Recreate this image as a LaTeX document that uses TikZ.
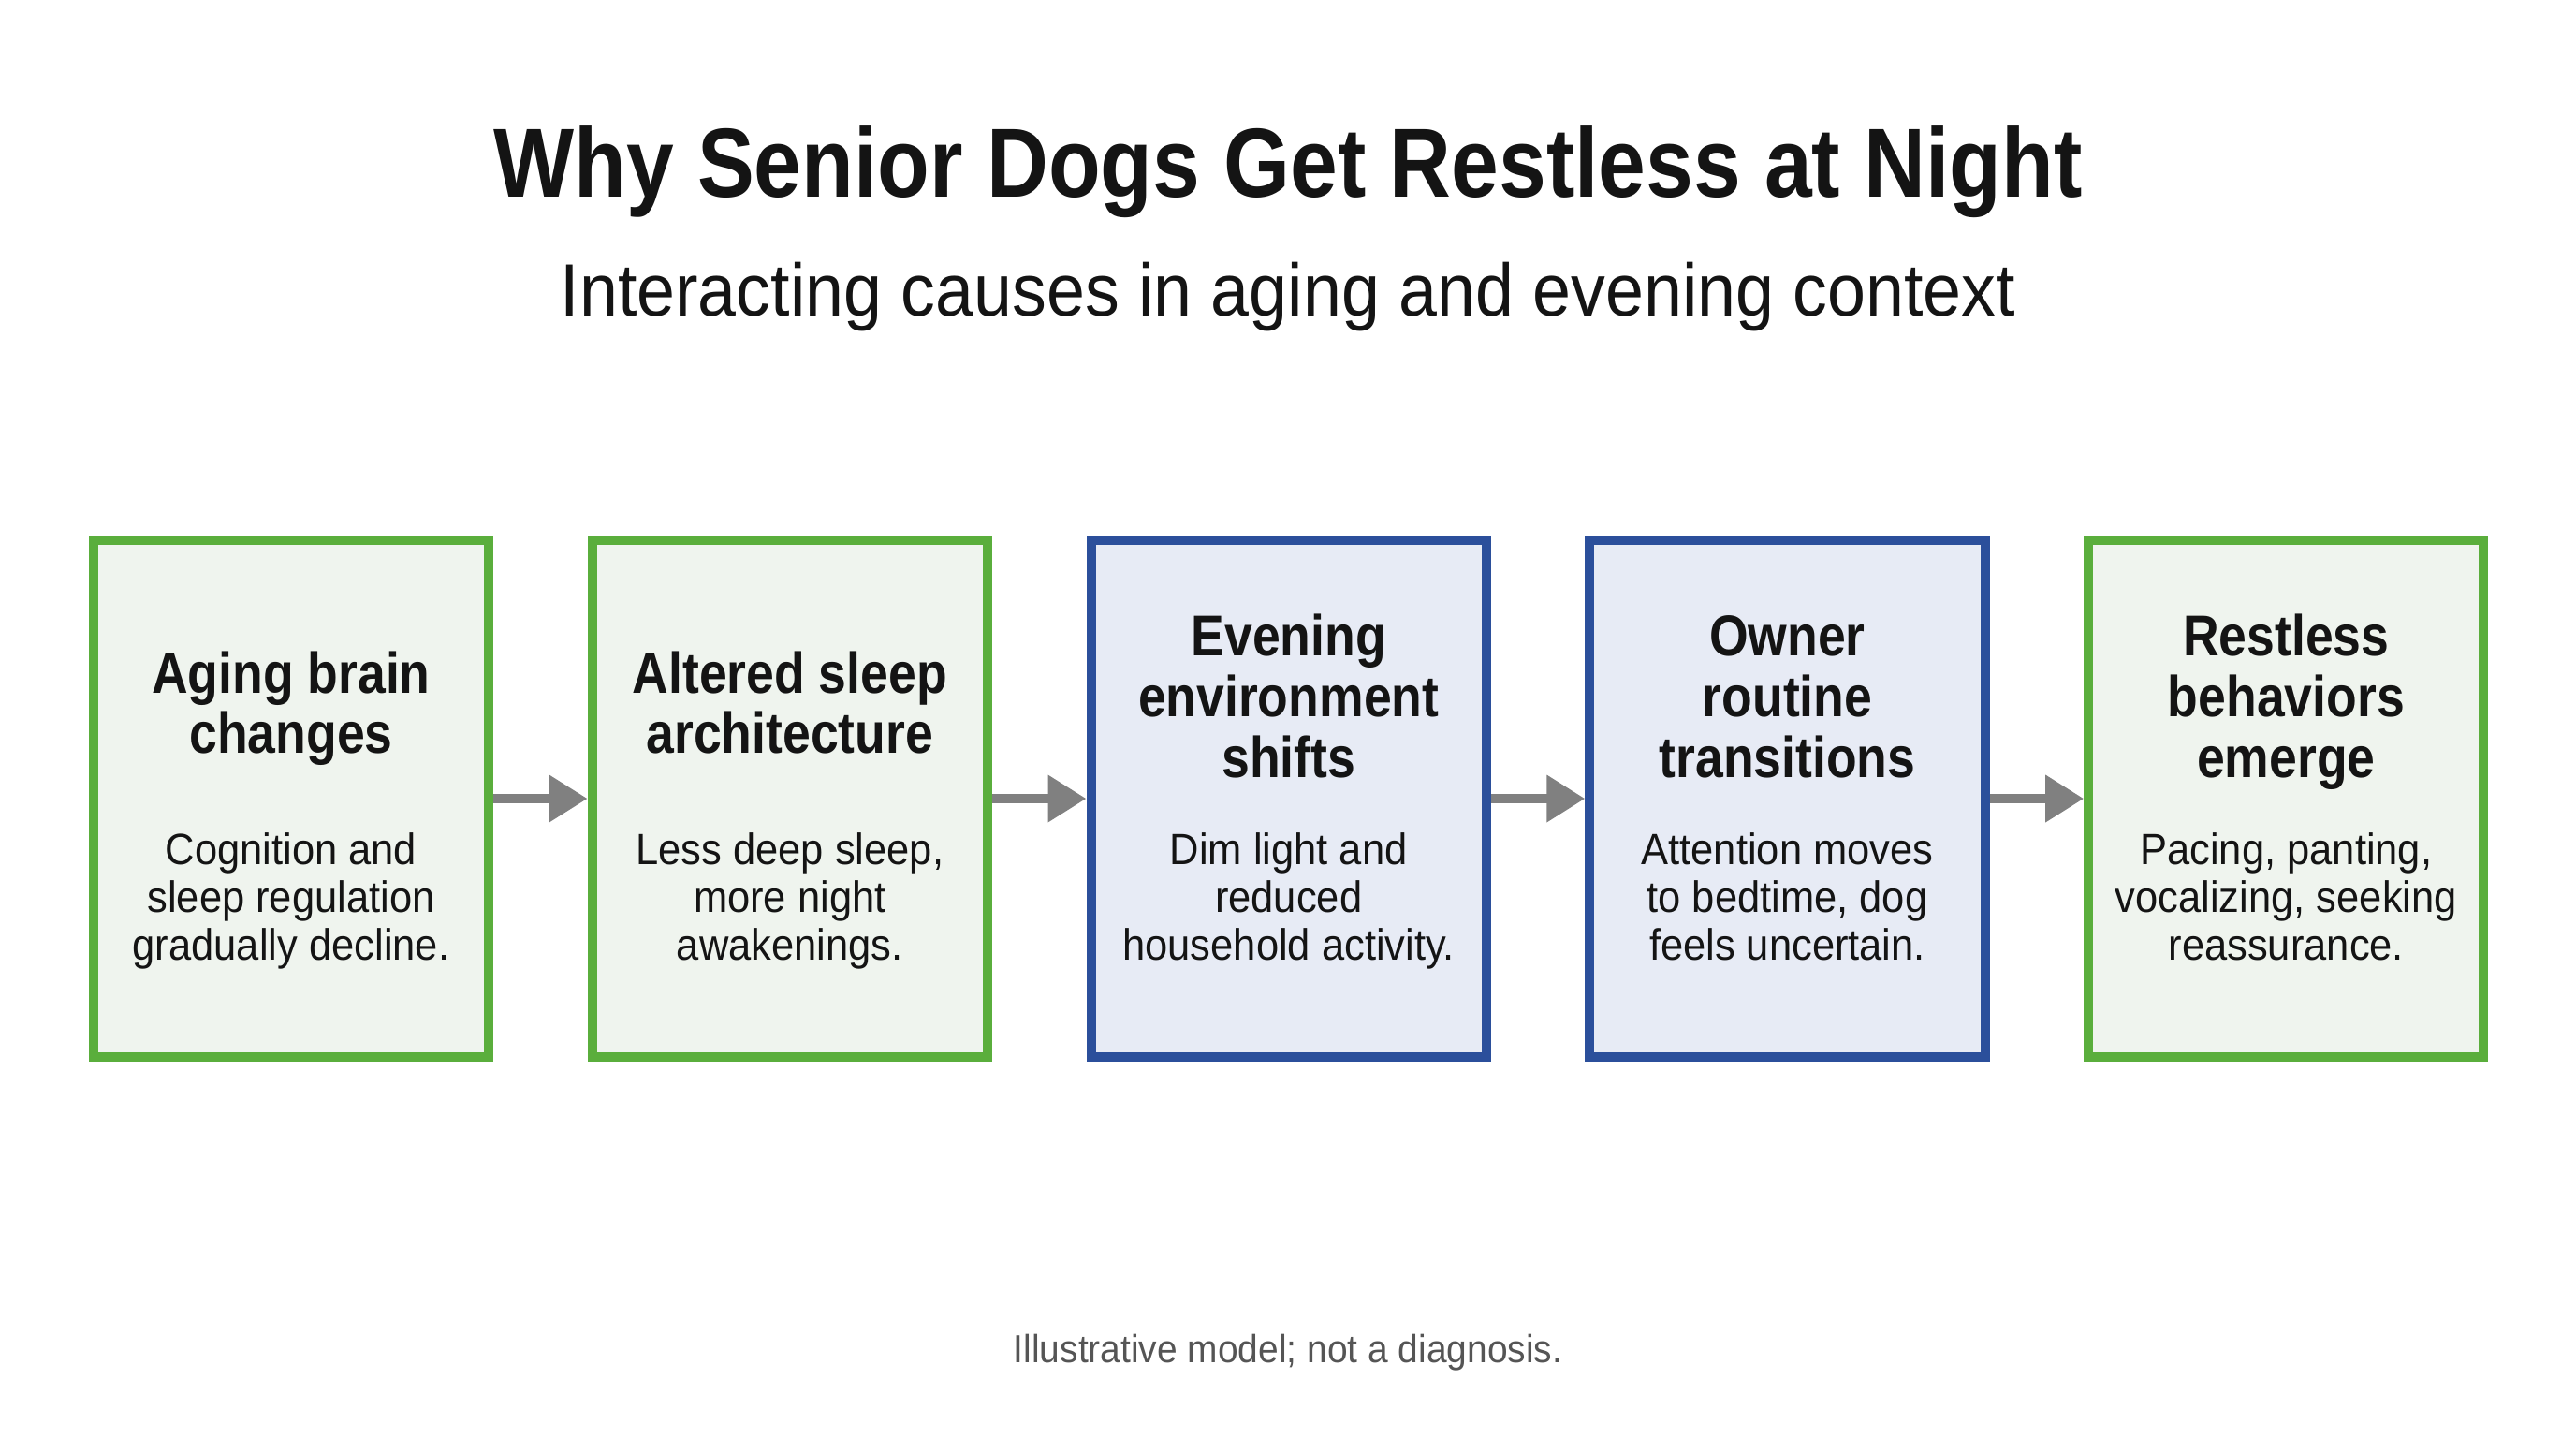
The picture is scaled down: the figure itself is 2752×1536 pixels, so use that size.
\documentclass[tikz,border=0pt]{standalone}
\usepackage{fontspec}
\setmainfont{Liberation Sans}
\newfontfamily\headfont[FakeStretch=0.87]{Liberation Sans Bold}
\newfontfamily\bodyfont[FakeStretch=0.93]{Liberation Sans}
\usetikzlibrary{arrows.meta, positioning}
\usepackage{xcolor}

\definecolor{ink}{HTML}{141414}
\definecolor{ageline}{HTML}{5AAE3C}
\definecolor{agefill}{HTML}{EFF4EE}
\definecolor{eveline}{HTML}{2B4F9B}
\definecolor{evefill}{HTML}{E7EBF5}
\definecolor{flowgray}{HTML}{808080}
\definecolor{notegray}{HTML}{555555}

\begin{document}
\begin{tikzpicture}[
        x=0.01cm, y=-0.01cm,
        causebox/.style={rectangle, draw, line width=2.85pt, minimum width=4.22cm, minimum height=5.52cm, inner sep=0pt},
        agebox/.style={causebox, draw=ageline, fill=agefill},
        evebox/.style={causebox, draw=eveline, fill=evefill},
        head/.style={font=\headfont\fontsize{17.5}{18.4}\selectfont, align=center, text=ink, anchor=base},
        body/.style={font=\bodyfont\fontsize{13.3}{14.4}\selectfont, align=center, text=ink, anchor=base},
        flow/.style={draw=flowgray, line width=2.85pt, -{Triangle[length=0.41cm, width=0.48cm]}}
    ]
        \useasboundingbox (0,0) rectangle (2752,1536);

        % title and subtitle
        \node [font=\headfont\fontsize{29.8}{32}\selectfont, text=ink, anchor=base] (title) at (1376,210) {Why Senior Dogs Get Restless at Night};
        \node [font=\bodyfont\fontsize{22.5}{26}\selectfont, text=ink, anchor=base] (subtitle) at (1376,337) {Interacting causes in aging and evening context};

        % the five boxes
        \node [agebox] (aging) at (311,853) {};
        \node [agebox, right=1.005cm of aging] (sleep) {};
        \node [evebox, right=1.005cm of sleep] (evening) {};
        \node [evebox, right=1.005cm of evening] (owner) {};
        \node [agebox, right=1.005cm of owner] (restless) {};

        % headings (base = last line)
        \node [head] (aginghead) at ([yshift=0.48cm]aging.center) {Aging brain\\changes};
        \node [head] (sleephead) at ([yshift=0.48cm]sleep.center) {Altered sleep\\architecture};
        \node [head] (eveninghead) at ([yshift=0.23cm]evening.center) {Evening\\environment\\shifts};
        \node [head] (ownerhead) at ([yshift=0.23cm]owner.center) {Owner\\routine\\transitions};
        \node [head] (restlesshead) at ([yshift=0.23cm]restless.center) {Restless\\behaviors\\emerge};

        % descriptions
        \node [body] (agingtext) at ([yshift=-1.72cm]aging.center) {Cognition and\\sleep regulation\\gradually decline.};
        \node [body] (sleeptext) at ([yshift=-1.72cm]sleep.center) {Less deep sleep,\\more night\\awakenings.};
        \node [body] (eveningtext) at ([yshift=-1.72cm]evening.center) {Dim light and\\reduced\\household activity.};
        \node [body] (ownertext) at ([yshift=-1.72cm]owner.center) {Attention moves\\to bedtime, dog\\feels uncertain.};
        \node [body] (restlesstext) at ([yshift=-1.72cm]restless.center) {Pacing, panting,\\vocalizing, seeking\\reassurance.};

        \draw [flow] (aging) -- (sleep);
        \draw [flow] (sleep) -- (evening);
        \draw [flow] (evening) -- (owner);
        \draw [flow] (owner) -- (restless);

        \node [font=\bodyfont\fontsize{11.9}{14}\selectfont, text=notegray, anchor=base] (note) at (1376,1455) {Illustrative model; not a diagnosis.};
    \end{tikzpicture}
\end{document}
